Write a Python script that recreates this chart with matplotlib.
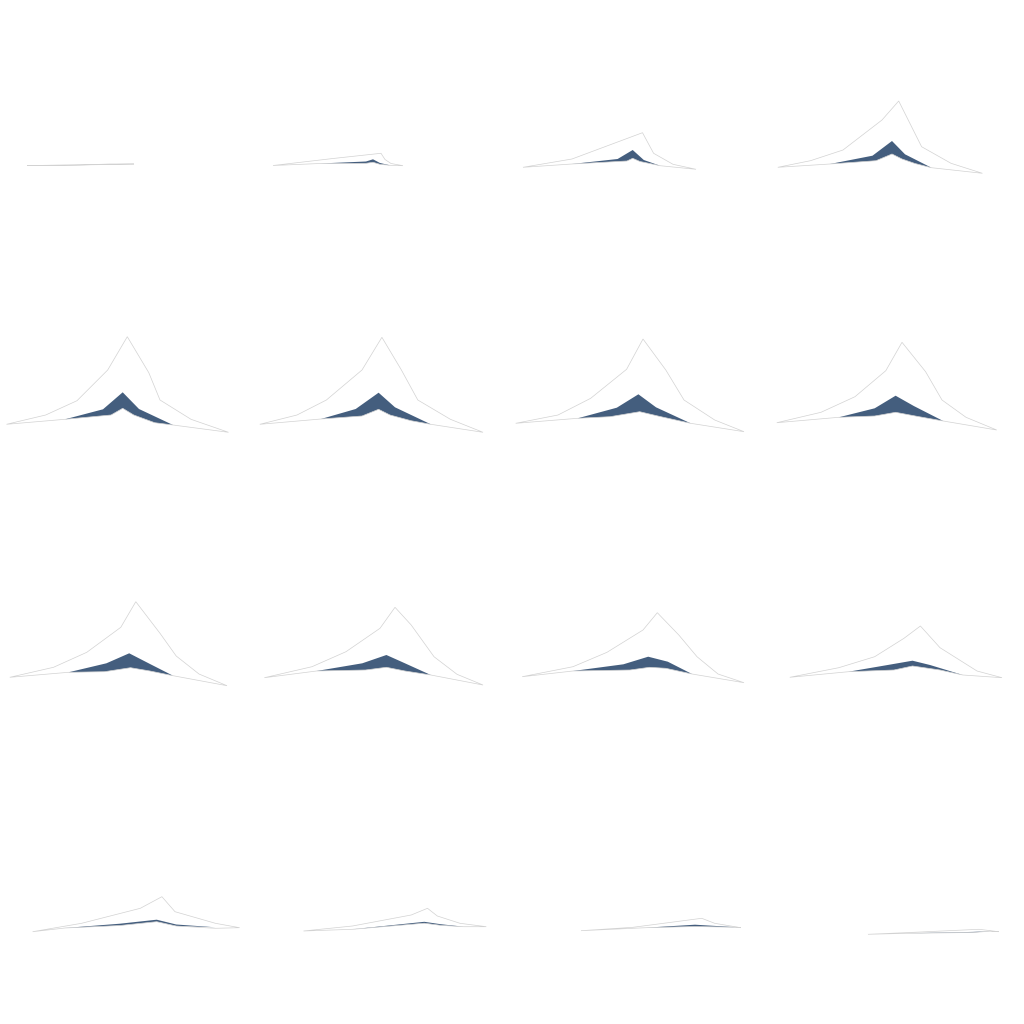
import numpy as np
import matplotlib
matplotlib.use('Agg')
import matplotlib.pyplot as plt

# 16 panels, 4x4, read left-to-right, top-to-bottom.
# each panel: outer curve (upper_*), blue band top (mid_*), shared lower curve (low_*)
upper_x = [
    [27, 80, 110, 134],
    [17, 77, 125, 129, 135, 147],
    [11, 60, 130.5, 141.6, 161, 184],
    [9.8, 42.5, 75, 114, 130.7, 153.6, 183, 214.4],
    [6.5, 45.7, 77, 107.7, 127.3, 148.8, 160, 191, 228.5],
    [3.8, 41, 70.4, 106, 125.9, 145.4, 161.8, 194.4, 227],
    [3.7, 46, 78.7, 114.6, 131, 153.8, 172, 202.7, 232],
    [8.8, 53, 87, 117.8, 134, 157.6, 174, 198, 228.7],
    [9.8, 53.5, 86.8, 120.8, 135.8, 160, 176.2, 199, 227],
    [8.4, 56, 90, 124, 139, 155.2, 178, 201, 227],
    [10.2, 61, 95, 131, 145.3, 166.8, 185, 206, 232],
    [21.8, 70.8, 106.7, 136, 152.4, 172, 209, 234],
    [32.6, 81.6, 140.3, 161.9, 175, 215.4, 239.6],
    [47.5, 96.5, 155.2, 171.5, 181.3, 204, 230.3],
    [69, 121, 189.7, 202.7, 228.8],
    [100, 146, 211, 230.7],
]
upper_y = [
    [90.5, 91.0, 92.0, 92.0],
    [90.5, 97.5, 102.7, 96.5, 92.5, 90.3],
    [88.7, 97, 123.3, 102.7, 91.7, 86.7],
    [88.7, 95.3, 106, 136, 155, 109.3, 92.7, 82.7],
    [87.7, 97, 111.3, 142, 175.3, 139.3, 112, 92.7, 79.7],
    [87.7, 97, 112, 142, 174.7, 142, 112, 92.7, 79.7],
    [88.7, 97, 113.7, 142.7, 173, 142, 112, 92, 80.3],
    [89.3, 99.7, 115.3, 141.3, 169.7, 140.3, 112, 94.7, 82],
    [90.7, 100.7, 115.7, 140.7, 166.3, 134.7, 112, 94, 82.3],
    [90.3, 101.3, 116.3, 139.7, 160.7, 143, 111.3, 93.7, 83],
    [91.3, 101.3, 115.7, 138, 155.3, 133, 111.3, 94, 85.3],
    [90.7, 100.3, 111.3, 129.7, 142, 120.3, 97, 90.3],
    [92.3, 100.7, 115.7, 127.3, 112.3, 100.7, 96.3],
    [93, 98, 109, 115.7, 108, 100.7, 97.3],
    [93.3, 96.7, 105.7, 100.7, 96.3],
    [89.7, 91.7, 94.7, 92.3],
]

mid_x = [
    [70, 110, 128],
    [64, 110, 117, 124, 134],
    [60, 105.6, 120.7, 131.8, 148],
    [62, 104.5, 124, 137, 163.4],
    [65, 103, 122.7, 139, 173],
    [65, 99.7, 122.6, 139, 174.8],
    [65.7, 104.8, 126.4, 144, 178.6],
    [70.8, 106.7, 127.6, 145.8, 175.2],
    [68.5, 106.4, 129.2, 150, 173],
    [60.6, 106.3, 130.4, 145.4, 174.8],
    [61, 111.4, 136.2, 155.8, 180],
    [80.6, 119.7, 144.5, 162, 194.8],
    [65, 120, 156.7, 176.2, 215.4],
    [96.5, 168.3, 184.6, 207.4],
    [134, 183, 225.6],
    [139, 204.6, 222],
]
mid_y = [
    [90.9, 91.6, 91.9],
    [92.5, 94.5, 96.7, 93, 90.7],
    [92, 97, 106, 96, 90.3],
    [92, 100.3, 115, 101.7, 88.3],
    [92.7, 102.7, 119.7, 103, 87],
    [93, 103, 119.3, 104.7, 87.7],
    [93.7, 104.3, 117.7, 104.7, 88.7],
    [94.7, 103.7, 116.3, 106, 91],
    [95.7, 104.7, 114.7, 104, 92.3],
    [97, 104.7, 113, 106.3, 93],
    [97, 103.7, 111.3, 106.3, 94],
    [96.3, 103, 107.3, 103, 93],
    [96, 100.3, 104.3, 99.5, 96.7],
    [94.7, 102.2, 99.8, 97.3],
    [96.3, 99.3, 96.7],
    [90.7, 92.1, 92.8],
]

low_x = [
    [27, 70, 110, 128, 134],
    [17, 64, 110, 117, 124, 134, 147],
    [11, 60, 115, 120.7, 128, 141.6, 148, 184],
    [9.8, 62, 108, 124, 134, 147, 163.4, 214.4],
    [6.5, 65, 111, 122.7, 133.8, 154.7, 173, 228.5],
    [3.8, 65, 106, 122.6, 134, 155, 174.8, 227],
    [3.7, 65.7, 98, 127.7, 148, 178.6, 232],
    [8.8, 70.8, 106.7, 127.6, 150, 175.2, 228.7],
    [9.8, 68.5, 104.4, 130.5, 150, 173, 227],
    [8.4, 60.6, 109.5, 130.4, 149, 174.8, 227],
    [10.2, 61, 118, 137.5, 153.8, 180, 232],
    [21.8, 80.6, 126, 144.5, 172, 194.8, 234],
    [32.6, 65, 120, 156.7, 176.2, 215.4, 239.6],
    [47.5, 96.5, 168.3, 184.6, 207.4, 230.3],
    [69, 134, 183, 225.6, 228.8],
    [100, 139, 204.6, 222, 230.7],
]
low_y = [
    [90.5, 90.9, 91.5, 91.9, 92.0],
    [90.5, 92.5, 92.7, 93.7, 91.7, 90.7, 90.3],
    [88.7, 92, 95, 97.7, 94.5, 91.7, 90.3, 86.7],
    [88.7, 92, 95.3, 102, 97, 92.5, 88.3, 82.7],
    [87.7, 92.7, 97, 103.7, 97, 89.3, 87, 79.7],
    [87.7, 93, 96, 102.7, 97, 91.3, 87.7, 79.7],
    [88.7, 93.7, 95.3, 100.3, 95.5, 88.7, 80.3],
    [89.3, 94.7, 96, 99.7, 95.5, 91, 82],
    [90.7, 95.7, 96.3, 100.3, 97, 92.3, 82.3],
    [90.3, 97, 98, 100.7, 97, 93, 83],
    [91.3, 97, 98, 100.7, 99.7, 94, 85.3],
    [90.7, 96.3, 98, 102, 98, 93, 90.3],
    [92.3, 96, 98.5, 102.3, 98, 95.7, 96.3],
    [93, 94.7, 100.8, 98.7, 97.3, 97.3],
    [93.3, 96.3, 97.5, 96.7, 96.3],
    [89.7, 90.7, 91.5, 92.8, 92.3],
]

band_color = '#445e7e'
edge_color = '#d2d2d2'

fig, axes = plt.subplots(4, 4, figsize=(10.24, 10.24), dpi=100)
plt.subplots_adjust(left=0, right=1, bottom=0, top=1, wspace=0, hspace=0)

for i, ax in enumerate(axes.flat):
    ux, uy = np.array(upper_x[i]), np.array(upper_y[i])
    mx, my = np.array(mid_x[i]), np.array(mid_y[i])
    lx, ly = np.array(low_x[i]), np.array(low_y[i])

    # blue band between mid curve and the lower curve
    inner = (lx > mx[0]) & (lx < mx[-1])
    ax.fill(np.concatenate([mx, lx[inner][::-1]]),
            np.concatenate([my, ly[inner][::-1]]),
            facecolor=band_color, edgecolor='none', linewidth=0)

    # outer band: upper curve then lower curve back
    ax.fill(np.concatenate([ux, lx[::-1]]), np.concatenate([uy, ly[::-1]]),
            facecolor='none', edgecolor=edge_color, linewidth=0.5)

    ax.set_xlim(0, 256)
    ax.set_ylim(0, 256)
    ax.axis('off')

fig.savefig('out.png', dpi=100)
